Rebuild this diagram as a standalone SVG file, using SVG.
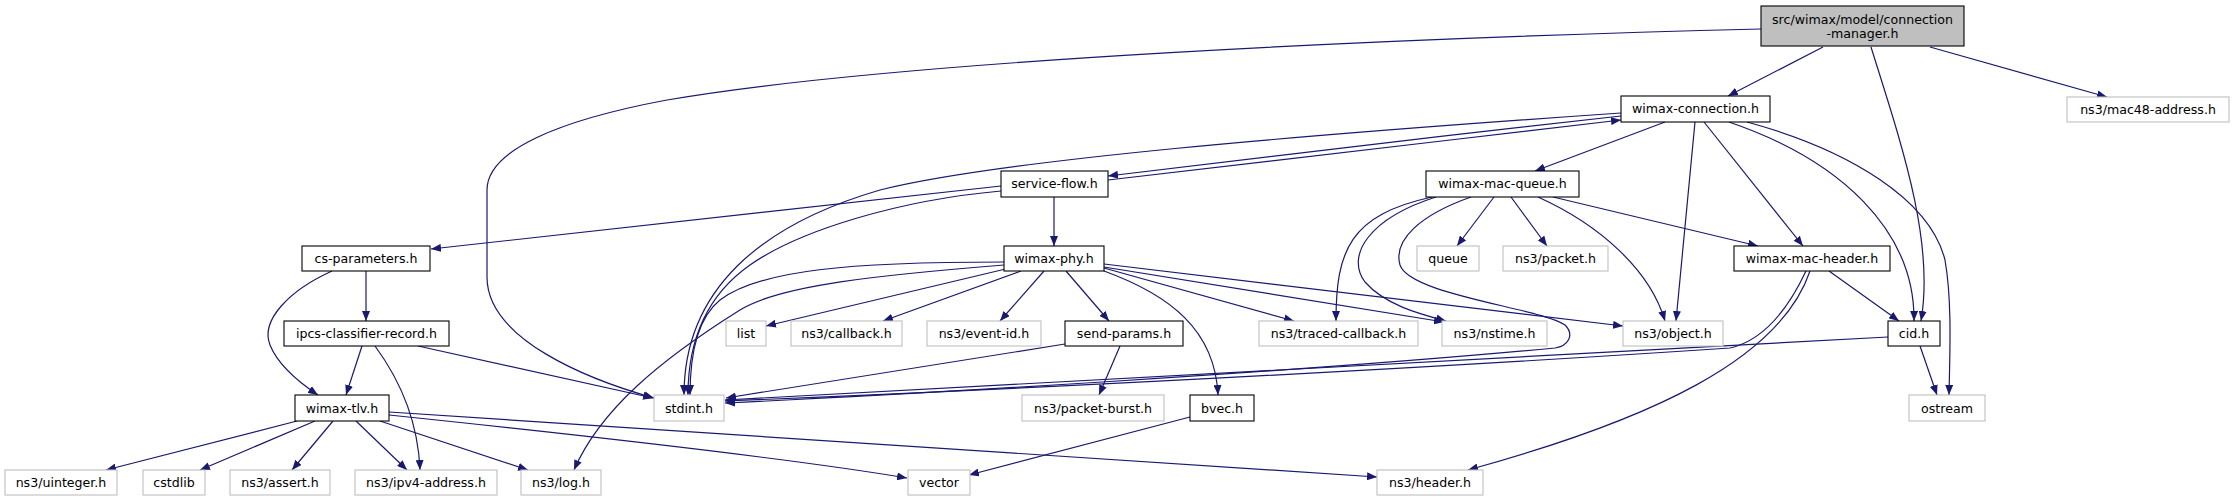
<svg xmlns="http://www.w3.org/2000/svg" width="2235" height="501" viewBox="0 0 2235 501">
<style>
.e{fill:none;stroke:#191970;stroke-width:1.2;marker-end:url(#a)}
.n rect{fill:#fff;stroke:#000;stroke-width:1.1}
.x rect{fill:#fff;stroke:#bfbfbf;stroke-width:1.1}
.r rect{fill:#bfbfbf;stroke:#000;stroke-width:1.1}
text{font-family:"DejaVu Sans","Liberation Sans",sans-serif;font-size:12.6px;fill:#000;text-anchor:middle}
</style>
<defs>
<marker id="a" markerUnits="userSpaceOnUse" markerWidth="11" markerHeight="8" refX="10" refY="4" orient="auto"><path d="M0,0 L10,4 L0,8 z" fill="#191970"/></marker>
</defs>
<rect width="2235" height="501" fill="#fff"/>
<g id="edges">
<path class="e" d="M1823,47 L1728,96"/>
<path class="e" d="M1761,29 C1400,38 900,60 667,100 C560,120 487,150 487,190 L487,277 C487,340 590,380 654,398"/>
<path class="e" d="M1930,47 L2107,97"/>
<path class="e" d="M1871,47 C1900,140 1935,240 1921,321"/>
<path class="e" d="M1621,116 C1450,135 1250,158 1108,176"/>
<path class="e" d="M1108,180 C1280,160 1450,140 1621,120"/>
<path class="e" d="M1621,113 C1300,135 1000,160 880,190 C760,225 684,290 684,395"/>
<path class="e" d="M1665,122 L1535,171"/>
<path class="e" d="M1695,122 L1676,321"/>
<path class="e" d="M1704,122 L1803,246"/>
<path class="e" d="M1729,122 C1840,160 1915,230 1914,321"/>
<path class="e" d="M1747,122 C1850,150 1930,200 1945,260 C1952,300 1950,350 1949,395"/>
<path class="e" d="M1001,186 L431,249"/>
<path class="e" d="M1054,197 L1054,246"/>
<path class="e" d="M1001,191 C900,200 800,230 750,265 C700,300 688,350 688,395"/>
<path class="e" d="M1494,197 L1457,246"/>
<path class="e" d="M1511,197 L1547,246"/>
<path class="e" d="M1553,197 L1758,246"/>
<path class="e" d="M1538,197 C1600,225 1650,270 1665,321"/>
<path class="e" d="M1432,197 C1350,215 1336,250 1336,321"/>
<path class="e" d="M1436,197 C1370,218 1345,255 1365,282 C1385,305 1420,314 1446,321"/>
<path class="e" d="M1471,197 C1420,215 1393,240 1400,265 C1410,295 1540,308 1565,325 C1575,335 1568,346 1555,348 C1300,372 900,395 725,403"/>
<path class="e" d="M366,271 L366,321"/>
<path class="e" d="M332,271 C290,290 260,320 270,345 C278,365 300,383 318,395"/>
<path class="e" d="M1014,267 L766,326"/>
<path class="e" d="M1021,271 L883,321"/>
<path class="e" d="M1044,271 L1000,321"/>
<path class="e" d="M1066,271 L1109,321"/>
<path class="e" d="M1104,268 L1294,321"/>
<path class="e" d="M1104,267 L1444,322"/>
<path class="e" d="M1104,264 L1623,326"/>
<path class="e" d="M1104,271 C1170,295 1215,330 1218,395"/>
<path class="e" d="M1004,262 C850,262 760,270 720,300 C695,320 690,360 690,395"/>
<path class="e" d="M1004,265 C880,275 780,285 740,310 C660,360 600,410 574,470"/>
<path class="e" d="M1829,271 L1899,321"/>
<path class="e" d="M1806,271 C1790,305 1765,340 1730,348 C1400,370 1000,390 725,401"/>
<path class="e" d="M1810,271 C1780,360 1650,420 1468,470"/>
<path class="e" d="M362,346 L346,395"/>
<path class="e" d="M375,346 C400,380 418,420 420,470"/>
<path class="e" d="M418,346 L653,398"/>
<path class="e" d="M1065,344 L726,398"/>
<path class="e" d="M1120,346 L1099,395"/>
<path class="e" d="M1888,337 L725,400"/>
<path class="e" d="M1920,346 L1937,395"/>
<path class="e" d="M297,421 L106,470"/>
<path class="e" d="M315,421 L200,470"/>
<path class="e" d="M333,421 L292,470"/>
<path class="e" d="M356,421 L407,470"/>
<path class="e" d="M380,421 L528,470"/>
<path class="e" d="M389,415 C600,437 800,460 907,478"/>
<path class="e" d="M389,412 L1377,477"/>
<path class="e" d="M1190,417 L969,475"/>
</g>
<g id="node-root" class="r"><rect x="1761" y="6" width="203" height="40"/><text x="1862.5" y="23.5">src/wimax/model/connection</text><text x="1862.5" y="37.5">-manager.h</text></g>
<g id="node-wimax-connection" class="n"><rect x="1621" y="96" width="149" height="26"/><text x="1695.5" y="113">wimax-connection.h</text></g>
<g id="node-mac48-address" class="x"><rect x="2067" y="97" width="162" height="25"/><text x="2148" y="114">ns3/mac48-address.h</text></g>
<g id="node-service-flow" class="n"><rect x="1001" y="171" width="107" height="26"/><text x="1054.5" y="188">service-flow.h</text></g>
<g id="node-wimax-mac-queue" class="n"><rect x="1426" y="171" width="153" height="26"/><text x="1502.5" y="188">wimax-mac-queue.h</text></g>
<g id="node-cs-parameters" class="n"><rect x="302" y="246" width="128" height="25"/><text x="366" y="263">cs-parameters.h</text></g>
<g id="node-wimax-phy" class="n"><rect x="1004" y="246" width="100" height="25"/><text x="1054" y="263">wimax-phy.h</text></g>
<g id="node-queue" class="x"><rect x="1417" y="246" width="62" height="25"/><text x="1448" y="263">queue</text></g>
<g id="node-packet" class="x"><rect x="1503" y="246" width="105" height="25"/><text x="1555.5" y="263">ns3/packet.h</text></g>
<g id="node-wimax-mac-header" class="n"><rect x="1734" y="246" width="156" height="25"/><text x="1812" y="263">wimax-mac-header.h</text></g>
<g id="node-ipcs-classifier-record" class="n"><rect x="284" y="321" width="165" height="25"/><text x="366.5" y="338">ipcs-classifier-record.h</text></g>
<g id="node-list" class="x"><rect x="726" y="321" width="40" height="25"/><text x="746" y="338">list</text></g>
<g id="node-callback" class="x"><rect x="791" y="321" width="111" height="25"/><text x="846.5" y="338">ns3/callback.h</text></g>
<g id="node-event-id" class="x"><rect x="927" y="321" width="114" height="25"/><text x="984" y="338">ns3/event-id.h</text></g>
<g id="node-send-params" class="n"><rect x="1065" y="321" width="118" height="25"/><text x="1124" y="338">send-params.h</text></g>
<g id="node-traced-callback" class="x"><rect x="1259" y="321" width="159" height="25"/><text x="1338.5" y="338">ns3/traced-callback.h</text></g>
<g id="node-nstime" class="x"><rect x="1442" y="321" width="105" height="25"/><text x="1494.5" y="338">ns3/nstime.h</text></g>
<g id="node-object" class="x"><rect x="1623" y="321" width="100" height="25"/><text x="1673" y="338">ns3/object.h</text></g>
<g id="node-cid" class="n"><rect x="1888" y="321" width="52" height="25"/><text x="1914" y="338">cid.h</text></g>
<g id="node-wimax-tlv" class="n"><rect x="295" y="395" width="94" height="26"/><text x="342" y="412.5">wimax-tlv.h</text></g>
<g id="node-stdint" class="x"><rect x="654" y="395" width="70" height="26"/><text x="689" y="412.5">stdint.h</text></g>
<g id="node-packet-burst" class="x"><rect x="1022" y="395" width="142" height="26"/><text x="1093" y="412.5">ns3/packet-burst.h</text></g>
<g id="node-bvec" class="n"><rect x="1190" y="395" width="64" height="26"/><text x="1222" y="412.5">bvec.h</text></g>
<g id="node-ostream" class="x"><rect x="1909" y="395" width="76" height="26"/><text x="1947" y="412.5">ostream</text></g>
<g id="node-uinteger" class="x"><rect x="5" y="470" width="112" height="25"/><text x="61" y="487">ns3/uinteger.h</text></g>
<g id="node-cstdlib" class="x"><rect x="143" y="470" width="62" height="25"/><text x="174" y="487">cstdlib</text></g>
<g id="node-assert" class="x"><rect x="230" y="470" width="100" height="25"/><text x="280" y="487">ns3/assert.h</text></g>
<g id="node-ipv4-address" class="x"><rect x="355" y="470" width="142" height="25"/><text x="426" y="487">ns3/ipv4-address.h</text></g>
<g id="node-log" class="x"><rect x="521" y="470" width="80" height="25"/><text x="561" y="487">ns3/log.h</text></g>
<g id="node-vector" class="x"><rect x="908" y="470" width="62" height="25"/><text x="939" y="487">vector</text></g>
<g id="node-header" class="x"><rect x="1377" y="470" width="106" height="25"/><text x="1430" y="487">ns3/header.h</text></g>
</svg>
